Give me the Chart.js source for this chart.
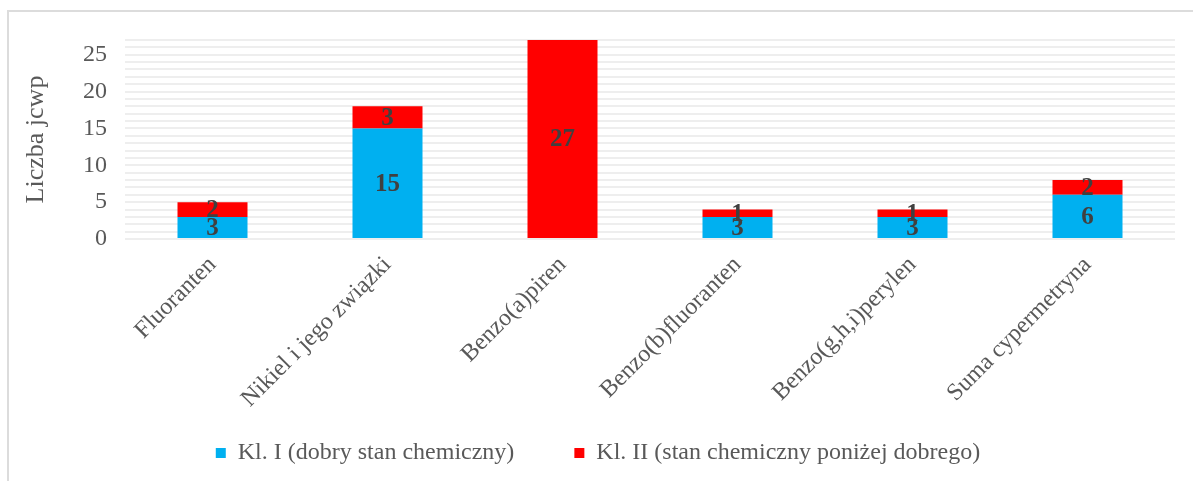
<!DOCTYPE html>
<html>
<head>
<meta charset="utf-8">
<script src="https://cdn.jsdelivr.net/npm/chart.js@4"></script>
<style>
  body { margin: 0; background: #fff; overflow: hidden; }
  #frame { position: absolute; left: 7px; top: 10px; width: 1200px; height: 500px; border: 2px solid #dcdcdc; }
  #wrap { position: absolute; left: 0; top: 0; width: 1193px; height: 481px; }
</style>
</head>
<body>
<div id="frame"></div>
<div id="wrap"><canvas id="myChart"></canvas></div>
<script>
const categories = ["Fluoranten", "Nikiel i jego związki", "Benzo(a)piren", "Benzo(b)fluoranten", "Benzo(g,h,i)perylen", "Suma cypermetryna"];
const klasaI = [3, 15, 0, 3, 3, 6];
const klasaII = [2, 3, 27, 1, 1, 2];
const seriesNames = ["Kl. I (dobry stan chemiczny)", "Kl. II (stan chemiczny poniżej dobrego)"];
const yMax = 27;

const serif = "'Liberation Serif', 'Times New Roman', serif";

// values written in the middle of each segment
const barLabels = {
    id: 'barLabels',
    afterDatasetsDraw(chart) {
        const ctx = chart.ctx;
        ctx.save();
        ctx.font = "bold 25px " + serif;
        ctx.fillStyle = "#404040";
        ctx.textAlign = "center";
        ctx.textBaseline = "middle";
        chart.data.datasets.forEach((ds, i) => {
            chart.getDatasetMeta(i).data.forEach((bar, j) => {
                if (!ds.data[j]) return;
                ctx.fillText(ds.data[j], bar.x, (bar.y + bar.base) / 2 + 1);
            });
        });
        ctx.restore();
    }
};

var canvas = document.getElementById('myChart');
var data = {
    labels: categories,
    datasets: [
        { label: seriesNames[0], data: klasaI, backgroundColor: "#00B0F0" },
        { label: seriesNames[1], data: klasaII, backgroundColor: "#FF0000" }
    ]
};

new Chart(canvas, {
    type: 'bar',
    data: data,
    plugins: [barLabels],
    options: {
        responsive: true,
        maintainAspectRatio: false,
        animation: false,
        categoryPercentage: 0.8,
        barPercentage: 0.5,
        layout: { padding: { left: 21, right: 18, top: 40, bottom: 6 } },
        plugins: {
            legend: {
                position: 'bottom',
                labels: {
                    font: { family: serif, size: 24 },
                    color: "#595959",
                    boxWidth: 10,
                    boxHeight: 10,
                    padding: 12,
                    // wider gap between the two entries
                    generateLabels(chart) {
                        const items = Chart.defaults.plugins.legend.labels.generateLabels(chart);
                        items[0].text += "\u2003\u2003";
                        return items;
                    }
                }
            },
            tooltip: { enabled: false }
        },
        scales: {
            x: {
                stacked: true,
                grid: { display: false },
                border: { display: false },
                ticks: {
                    font: { family: serif, size: 24 },
                    color: "#595959",
                    minRotation: 45,
                    maxRotation: 45,
                    padding: 4
                },
                afterFit(scale) { scale.height = 190; }
            },
            y: {
                stacked: true,
                min: 0,
                max: yMax,
                grid: { color: "#eeeeee", lineWidth: 2, drawTicks: false },
                border: { display: false },
                title: {
                    display: true,
                    text: "Liczba jcwp",
                    font: { family: serif, size: 26 },
                    color: "#595959",
                    padding: 0
                },
                ticks: {
                    stepSize: 1,
                    autoSkip: false,
                    font: { family: serif, size: 24 },
                    color: "#595959",
                    padding: 18,
                    callback: (v) => v % 5 === 0 ? v : ''
                },
                afterFit(scale) { scale.width = 104; }
            }
        }
    }
});
</script>
</body>
</html>
